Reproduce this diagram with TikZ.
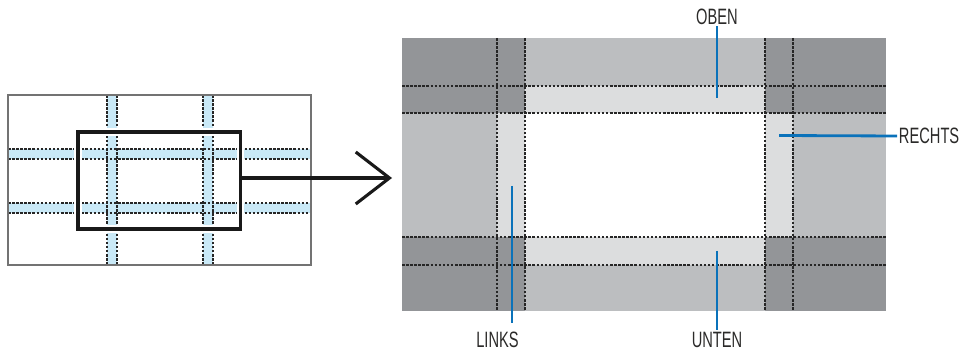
\documentclass[tikz,border=0pt]{standalone}
\usepackage{fontspec}
\setmainfont{Liberation Sans}[FakeStretch=0.66]
\usetikzlibrary{arrows.meta}
\definecolor{bandblue}{HTML}{C9E9F7}
\definecolor{callblue}{HTML}{0A72BA}
\definecolor{gdark}{HTML}{939598}
\definecolor{gmid}{HTML}{BCBEC0}
\definecolor{glight}{HTML}{DCDDDE}
\definecolor{txt}{HTML}{2B2A29}
\tikzset{
  cut/.style={black!85, line width=0.75pt, dash pattern=on 1.8pt off 1.1pt},
  band/.style={fill=bandblue, draw=none},
  callout/.style={callblue, line width=2pt},
  lbl/.style={text=txt, font=\fontsize{15.8}{18}\selectfont, inner sep=1.2pt},
  zoomarrow/.style={line width=2.2pt, -{Straight Barb[length=24pt, width=37pt, line width=2.2pt]}}
}
\begin{document}
\begin{tikzpicture}[x=0.025cm, y=-0.025cm]
\useasboundingbox (0,0) rectangle (968,353);
% left: whole screen with the blend bands
\fill[band] (107,95) rectangle (117,265);
\fill[band] (203,95) rectangle (213,265);
\fill[band] (8,149) rectangle (311,159);
\fill[band] (8,203) rectangle (311,213);
\foreach \bx in {107,117,203,213}
  \draw[cut] (\bx,95) -- (\bx,265);
\foreach \by in {149,159,203,213}
  \draw[cut] (8,\by) -- (311,\by);
\draw[black!55, line width=0.8pt] (8,95) rectangle (311,265);
\draw[white, line width=5pt] (78,132) rectangle (240.5,229);
\draw[black!90, line width=2.3pt] (78,132) rectangle (240.5,229);
\coordinate (selE) at (240.5,178);
\coordinate (tip) at (392,178);
\draw[zoomarrow, black!90] (selE) -- (tip);
% right: enlarged part
\fill[gmid] (402,38) rectangle (886,311);
\fill[glight] (497,86) rectangle (793,265);
\fill[white] (525,113) rectangle (765,237);
\fill[gdark] (402,38) rectangle (525,113);
\fill[gdark] (765,38) rectangle (886,113);
\fill[gdark] (402,237) rectangle (525,311);
\fill[gdark] (765,237) rectangle (886,311);
\foreach \cx in {497,525,765,793}
  \draw[cut] (\cx,38) -- (\cx,311);
\foreach \cy in {86,113,237,265}
  \draw[cut] (402,\cy) -- (886,\cy);
% labels
\node[lbl] (oben) at (717,16.5) {OBEN};
\node[lbl, anchor=west] (rechts) at (897,136) {RECHTS};
\node[lbl] (links) at (497.5,340) {LINKS};
\node[lbl] (unten) at (717,340) {UNTEN};
\coordinate (obenE) at (717,98);
\coordinate (rechtsE) at (779,135.5);
\coordinate (linksE) at (512,186);
\coordinate (linksS) at (512,323);
\coordinate (untenE) at (717,251);
\draw[callout] (oben.south) -- (obenE);
\draw[callout] (rechtsE) -- (rechts.west);
\draw[callout] (linksE) -- (linksS);
\draw[callout] (untenE) -- (untenE |- unten.north);
\end{tikzpicture}
\end{document}
